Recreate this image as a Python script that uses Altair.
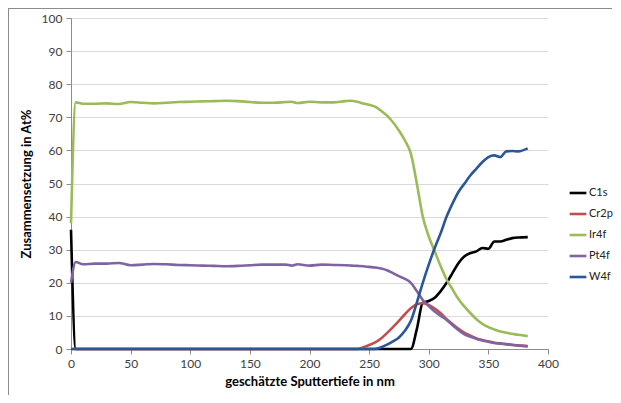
import altair as alt
import pandas as pd

depth = [0, 4, 10, 20, 30, 40, 50, 60, 70, 80, 90, 100, 110, 120, 130, 140, 150, 160, 170, 180,
         185, 190, 200, 210, 220, 230, 235, 240, 245, 250, 255, 260, 265, 270, 275, 280, 285, 290,
         295, 300, 305, 310, 315, 320, 325, 330, 335, 340, 345, 350, 355, 360, 365, 370, 375, 383]

c1s = [36, 0, 0, 0, 0, 0, 0, 0, 0, 0, 0, 0, 0, 0, 0, 0, 0, 0, 0, 0,
       0, 0, 0, 0, 0, 0, 0, 0, 0, 0, 0, 0, 0, 0, 0, 0, 0, 6,
       14, 14.5, 15.5, 17.5, 20, 23, 26, 28, 29, 29.5, 30.5, 30.3, 32.5, 32.5, 33, 33.5, 33.7, 33.8]

cr2p = [0, 0, 0, 0, 0, 0, 0, 0, 0, 0, 0, 0, 0, 0, 0, 0, 0, 0, 0, 0,
        0, 0, 0, 0, 0, 0, 0, 0, 0.5, 1.2, 2, 3.2, 4.8, 6.6, 8.5, 10.5, 12.3, 13.5,
        13.8, 13.3, 12.2, 10.8, 9, 7.5, 6.1, 4.9, 4, 3.2, 2.7, 2.3, 1.9, 1.7, 1.5, 1.3, 1.1, 0.9]

ir4f = [38, 74.5, 74.1, 74.1, 74.2, 74.0, 74.6, 74.4, 74.2, 74.4, 74.6, 74.7, 74.8, 74.9, 75.0, 74.9, 74.6, 74.4, 74.4, 74.6,
        74.7, 74.3, 74.7, 74.5, 74.5, 74.9, 75.0, 74.7, 74.2, 73.8, 73.2, 72.0, 70.5, 68.5, 66, 63, 59, 50,
        40, 34, 29.5, 25, 21, 18, 15, 12.8, 10.8, 9, 7.6, 6.6, 5.9, 5.3, 4.9, 4.6, 4.3, 3.9]

pt4f = [20, 26.3, 25.6, 25.8, 25.8, 26.0, 25.3, 25.5, 25.7, 25.6, 25.4, 25.3, 25.2, 25.1, 25.0, 25.1, 25.3, 25.5, 25.5, 25.5,
        25.2, 25.6, 25.2, 25.5, 25.4, 25.3, 25.2, 25.1, 25.0, 24.8, 24.6, 24.3, 23.8, 22.9, 22.0, 21.2, 20, 17.5,
        14.8, 13, 11.3, 10, 8.8, 7.2, 5.7, 4.4, 3.7, 3.1, 2.6, 2.2, 1.8, 1.6, 1.4, 1.2, 1.0, 0.8]

w4f = [0, 0, 0, 0, 0, 0, 0, 0, 0, 0, 0, 0, 0, 0, 0, 0, 0, 0, 0, 0,
       0, 0, 0, 0, 0, 0, 0, 0, 0, 0, 0, 0.5, 1.3, 2.3, 3.5, 5.5, 8.5, 14,
       20, 25.5, 30.5, 35, 40, 44, 47.5, 50, 52.5, 54.5, 56.5, 58, 58.5, 58, 59.7, 59.8, 59.7, 60.6]

series_names = ["C1s", "Cr2p", "Ir4f", "Pt4f", "W4f"]
series_values = [c1s, cr2p, ir4f, pt4f, w4f]
series_colors = ["#000000", "#c0504d", "#9bbb59", "#8064a2", "#2b5797"]

rows = []
for name, vals in zip(series_names, series_values):
    for d, v in zip(depth, vals):
        rows.append({"Tiefe": d, "Wert": v, "Element": name})
df = pd.DataFrame(rows)

FONT = "Lato"

lines = alt.Chart(df).mark_line(strokeWidth=2.6, interpolate="monotone").encode(
    x=alt.X("Tiefe:Q", scale=alt.Scale(domain=[0, 400], nice=False),
            axis=alt.Axis(title="geschätzte Sputtertiefe in nm", values=list(range(0, 401, 50)),
                          grid=False, tickSize=5, labelPadding=4, titlePadding=6, labelFlush=False)),
    y=alt.Y("Wert:Q", scale=alt.Scale(domain=[0, 100], nice=False),
            axis=alt.Axis(title="Zusammensetzung in At%", values=list(range(0, 101, 10)),
                          grid=True, tickSize=5, labelPadding=4, titlePadding=8, labelFlush=False)),
    color=alt.Color("Element:N", scale=alt.Scale(domain=series_names, range=series_colors),
                    legend=alt.Legend(title=None, orient="none", legendX=497, legendY=165,
                                      symbolType="stroke", symbolSize=280, symbolStrokeWidth=2.6,
                                      labelFontSize=11, labelFont=FONT, labelColor="#222222",
                                      rowPadding=5, labelOffset=1)),
)

border = alt.Chart(df).mark_rule(color="#8c8c8c", strokeWidth=1).encode(
    x=alt.value(-62.5), y=alt.value(-9.5), x2=alt.value(541), y2=alt.value(-9.5)
)
border_left = alt.Chart(df).mark_rule(color="#8c8c8c", strokeWidth=1).encode(
    x=alt.value(-62.5), y=alt.value(-9.5), x2=alt.value(-62.5), y2=alt.value(377)
)

chart = alt.layer(lines, border, border_left).properties(
    width=477, height=331,
    autosize=alt.AutoSizeParams(type="none"),
    padding={"left": 63, "top": 10, "right": 65, "bottom": 46},
).configure_view(stroke=None).configure_axis(
    labelFont=FONT, labelFontSize=12, labelColor="#404040",
    titleFont=FONT, titleFontSize=13, titleColor="#000000", titleFontWeight="bold",
    domainColor="#8c8c8c", tickColor="#8c8c8c", gridColor="#d9d9d9",
).configure_axisY(domain=True)

chart.save("out.html", embed_options={"renderer": "svg", "actions": False})
